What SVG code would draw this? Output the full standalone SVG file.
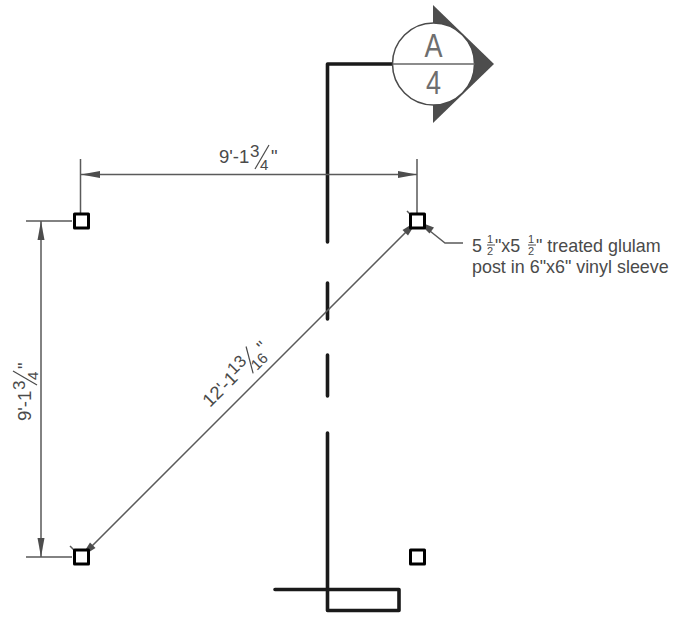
<svg xmlns="http://www.w3.org/2000/svg" width="686" height="617" viewBox="0 0 686 617">
<style>
.h{fill:none;stroke:#1a1a1a;stroke-width:3.6;stroke-linecap:round;stroke-linejoin:round}
.p{fill:#fff;stroke:#000;stroke-width:3;stroke-linejoin:round}
.d{fill:none;stroke:#5a5a5a;stroke-width:1.5}
.a{fill:#4d4d4d;stroke:none}
.s{stroke:#4a4a4a;stroke-width:1.200}
text{font-family:"Liberation Sans",Arial,sans-serif;fill:#4a4a4a}
.n{font-size:18.500px}
.u{font-size:17px}
.l{font-size:15px}
.m{font-size:17.900px}
.f{font-size:11px}
.b{font-size:33px;fill:#6e6e6e}
</style>
<rect width="686" height="617" fill="#fff"/>
<g id="connectors">
<path class="h" d="M392 64H327.500V242M327.500 283V319M327.500 355V396M327.500 433V610.500H399V589.500H275"/>
<path class="d" d="M80.500 215V159M417 215V159M80 174.500H417M72 221H26M72 557H26M41 221V557M81 557L417 221M425 227L445 243H463"/>
<path class="d" stroke-width="1" d="M70 546L74 550M407 211L411 215"/>
<polygon class="a" points="81,174.500 100,171 100,178"/>
<polygon class="a" points="417,174.500 398,171 398,178"/>
<polygon class="a" points="41,221 37.500,240 44.500,240"/>
<polygon class="a" points="41,557 37.500,538 44.500,538"/>
<polygon class="a" points="417,221 402.500,230 408,235.500"/>
<polygon class="a" points="81,557 95.500,548 90,542.500"/>
<polygon class="a" points="417,221 429.500,233.500 434,227.500"/>
</g>
<g id="post-nw"><rect class="p" x="74.500" y="214" width="14" height="14"/></g>
<g id="post-ne"><rect class="p" x="410.500" y="214" width="14" height="14"/></g>
<g id="post-sw"><rect class="p" x="74.500" y="550" width="14" height="14"/></g>
<g id="post-se"><rect class="p" x="410.500" y="550" width="14" height="14"/></g>
<g id="section-marker">
<polygon points="433,5 494,64 433,123" fill="#4d4d4d"/>
<circle cx="433.500" cy="64" r="41" fill="#fff" stroke="#4a4a4a" stroke-width="1.500"/>
<path d="M393 64H475" stroke="#666" stroke-width="1.500"/>
<text class="b" x="0" y="57" text-anchor="middle" transform="translate(433.500 0) scale(.82 1)">A</text>
<text class="b" x="0" y="94" text-anchor="middle" transform="translate(433.500 0) scale(.82 1)">4</text>
</g>
<g id="dim-top" transform="translate(219 163)">
<text class="n" x="0" y="0">9'-1</text>
<text class="u" x="31" y="-6">3</text>
<path class="s" d="M36 6L50 -18"/>
<text class="l" x="41" y="7">4</text>
<text class="n" x="52" y="0">"</text>
</g>
<g id="dim-left" transform="translate(31 421) rotate(-90)">
<text class="n" x="0" y="0">9'-1</text>
<text class="u" x="31" y="-6">3</text>
<path class="s" d="M36 6L50 -18"/>
<text class="l" x="41" y="7">4</text>
<text class="n" x="52" y="0">"</text>
</g>
<g id="dim-diagonal" transform="translate(210 408) rotate(-45)">
<text class="n" x="0" y="0">12'-1</text>
<text class="u" x="40" y="-6">13</text>
<path class="s" d="M55 6L69 -18"/>
<text class="l" x="59.500" y="7">16</text>
<text class="n" x="77" y="0">"</text>
</g>
<g id="leader-note">
<text class="m" x="472" y="252">5</text>
<text class="f" x="487" y="243">1</text>
<path d="M487 245H495" stroke="#4a4a4a"/>
<text class="f" x="487" y="255">2</text>
<text class="m" x="495" y="252">"x5</text>
<text class="f" x="528" y="243">1</text>
<path d="M528 245H536" stroke="#4a4a4a"/>
<text class="f" x="528" y="255">2</text>
<text class="m" x="536" y="252">" treated glulam</text>
<text class="m" x="472" y="273">post in 6"x6" vinyl sleeve</text>
</g>
</svg>
